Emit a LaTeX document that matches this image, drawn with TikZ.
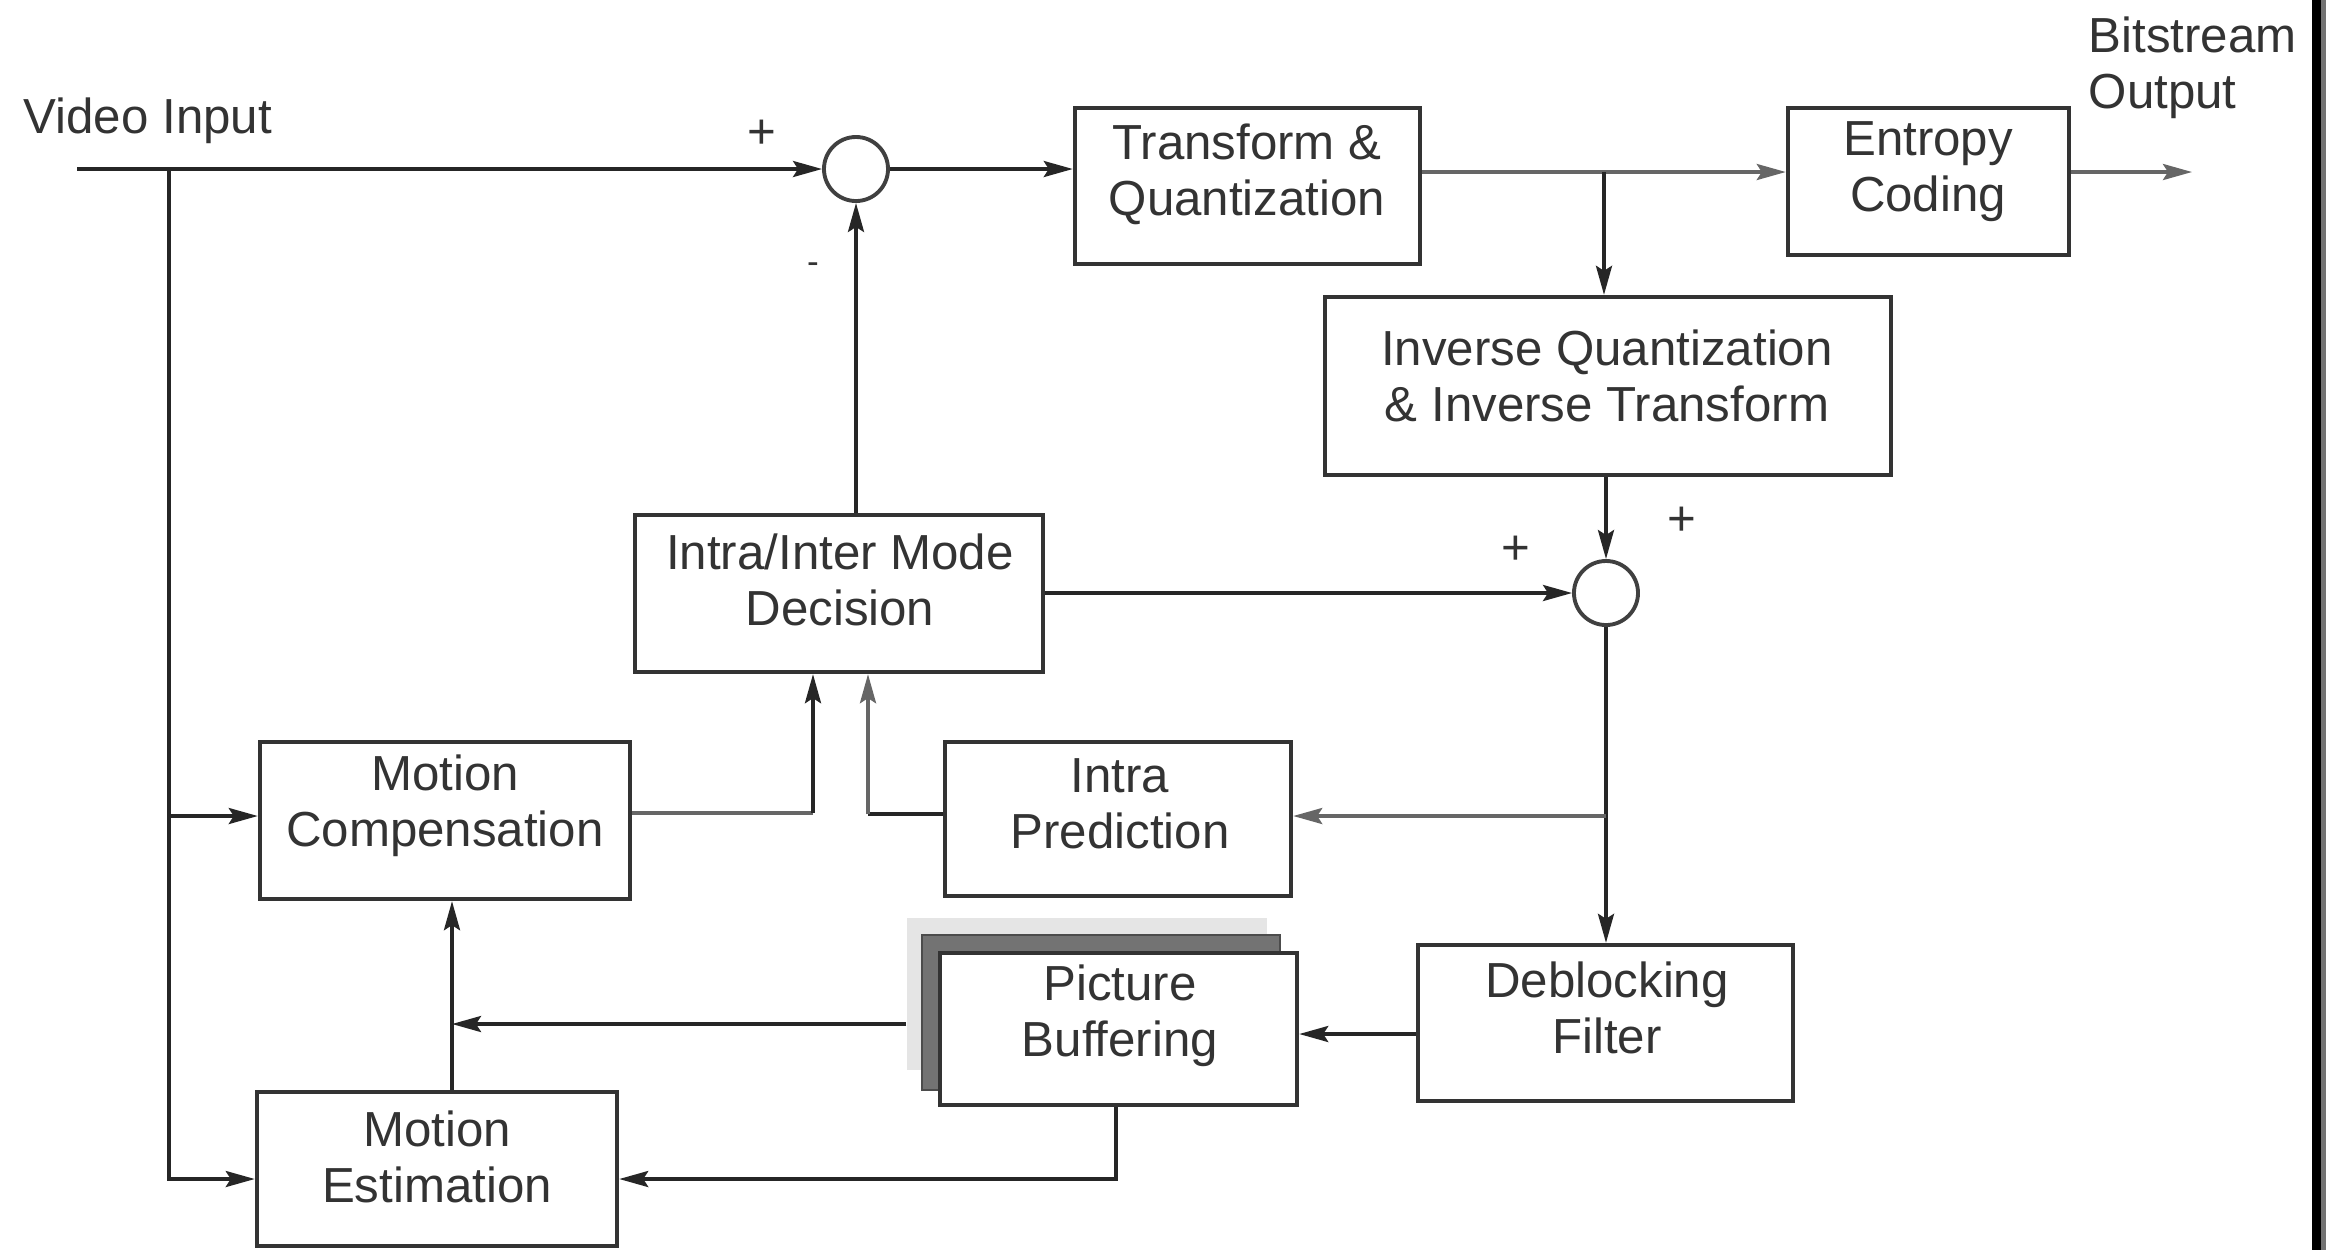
\documentclass[tikz,border=0pt]{standalone}
\usepackage{fontspec}
\setmainfont{Liberation Sans}
\usetikzlibrary{arrows.meta}

\begin{document}
\begin{tikzpicture}[x=0.01cm,y=-0.01cm,
  ink/.style={draw=black!85, line width=1pt},
  inkg/.style={draw=black!60, line width=1pt},
  tip/.style={-{Stealth[length=0.29cm,width=0.16cm,inset=0.05cm]}},
  arr/.style={ink, tip},
  arrg/.style={inkg, tip},
  blk/.style={draw=black!80, line width=1.2pt, fill=white, inner sep=0pt},
  lbl/.style={text=black!80, font=\fontsize{14}{15.9}\selectfont, align=center, inner sep=0pt},
  sumnode/.style={circle, draw=black!75, line width=1.1pt, fill=white, minimum size=0.64cm, inner sep=0pt},
  sign/.style={text=black!80, font=\fontsize{14}{14}\selectfont, inner sep=0pt}
]
% canvas
\fill[white] (0,0) rectangle (2326,1250);
\useasboundingbox (0,0) rectangle (2326,1250);
\fill[black] (2312,0) rectangle (2321,1250);
\fill[black!55] (2321,0) rectangle (2326,1250);

% picture buffer stack (back sheets)
\node[fill=black!10, minimum width=3.60cm, minimum height=1.52cm, inner sep=0pt] (sh1) at (1087,994) {};
\node[fill=black!55, draw=black!70, line width=0.6pt, minimum width=3.58cm, minimum height=1.55cm, inner sep=0pt] (sh2) at (1101,1012.5) {};

% processing blocks
\node[blk, minimum width=3.45cm, minimum height=1.56cm] (tq) at (1247.5,186) {};
\node[blk, minimum width=2.81cm, minimum height=1.47cm] (ec) at (1928.5,181.5) {};
\node[blk, minimum width=5.66cm, minimum height=1.78cm] (iq) at (1608,386) {};
\node[blk, minimum width=4.08cm, minimum height=1.57cm] (md) at (839,593.5) {};
\node[blk, minimum width=3.70cm, minimum height=1.57cm] (mc) at (445,820.5) {};
\node[blk, minimum width=3.46cm, minimum height=1.54cm] (ip) at (1118,819) {};
\node[blk, minimum width=3.57cm, minimum height=1.52cm] (pb) at (1118.5,1029) {};
\node[blk, minimum width=3.75cm, minimum height=1.56cm] (db) at (1605.5,1023) {};
\node[blk, minimum width=3.60cm, minimum height=1.54cm] (me) at (437,1169) {};

% block labels
\node[lbl] (tqt) at (1247,174) {Transform \&\\Quantization};
\node[lbl] (ect) at (1928,172) {Entropy\\Coding};
\node[lbl] (iqt) at (1607,376) {Inverse Quantization\\\& Inverse Transform};
\node[lbl] (mdt) at (840,580) {Intra/Inter Mode\\Decision};
\node[lbl] (mct) at (445,806) {Motion\\Compensation};
\node[lbl] (ipt) at (1120,804) {Intra\\Prediction};
\node[lbl] (pbt) at (1120,1016) {Picture\\Buffering};
\node[lbl] (dbt) at (1607,1008) {Deblocking\\Filter};
\node[lbl] (met) at (437,1157) {Motion\\Estimation};

% summing junctions
\node[sumnode] (s1) at (856,169) {};
\node[sumnode] (s2) at (1606,593) {};

% signs at the junctions
\node[sign] (p1) at (762,134) {+};
\node[sign, font=\fontsize{10}{10}\selectfont] (m1) at (813,268) {-};
\node[sign] (p2) at (1516,550) {+};
\node[sign] (p3) at (1682,521) {+};

% input / output texts
\node[lbl, anchor=base west] (vint) at (23,133) {Video Input};
\node[lbl, anchor=west, align=left] (bout) at (2088,68) {Bitstream\\Output};

% routing points
\coordinate (vin) at (77,169);
\coordinate (j0) at (169,169);
\coordinate (j1) at (169,1179);
\coordinate (j2) at (169,816);
\coordinate (b1) at (1604,172);
\coordinate (bo) at (2192,172);
\coordinate (b2) at (1606,816);
\coordinate (pbin) at (1350,1034);
\coordinate (mt) at (452,1024);
\coordinate (pbd) at (1116,1179);
\coordinate (k1) at (813,813);
\coordinate (k2) at (868,814);

% forward path
\draw[arr] (vin) -- (s1.west);
\draw[arr] (s1.east) -- (tq.west |- s1);
\draw[arrg] (tq.east |- b1) -- (ec.west |- b1);
\draw[arrg] (ec.east |- bo) -- (bo);
\draw[arr] (b1) -- (b1 |- iq.north);

% input branches to motion blocks
\draw[arr] (j0) -- (j1) -- (me.west |- j1);
\draw[arr] (j2) -- (mc.west |- j2);

% reconstruction loop
\draw[arr] (iq.south -| s2) -- (s2.north);
\draw[arr] (md.east |- s2) -- (s2.west);
\draw[arr] (s2.south) -- (s2 |- db.north);
\draw[arrg] (b2) -- (ip.east |- b2);
\draw[arr] (db.west |- pbin) -- (pb.east |- pbin);
\draw[arr] (sh1.west |- mt) -- (mt);
\draw[arr] (pb.south -| pbd) -- (pbd) -- (me.east |- pbd);
\draw[ink] (me.north -| mt) -- (mt);
\draw[arr] (mt) -- (mc.south -| mt);

% prediction selection
\draw[inkg] (mc.east |- k1) -- (k1);
\draw[arr] (k1) -- (md.south -| k1);
\draw[ink] (ip.west |- k2) -- (k2);
\draw[arrg] (k2) -- (md.south -| k2);
\draw[arr] (md.north -| s1) -- (s1.south);
\end{tikzpicture}
\end{document}
